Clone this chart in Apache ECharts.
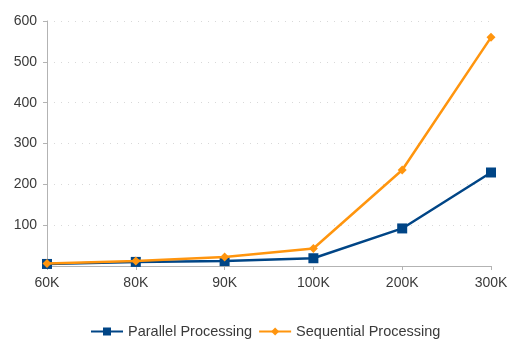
<!DOCTYPE html>
<html>
<head>
<meta charset="utf-8">
<script src="https://cdn.jsdelivr.net/npm/echarts@6/dist/echarts.min.js"></script>
<style>
  html, body { margin: 0; padding: 0; background: #fff; }
  #chart { width: 512px; height: 340px; }
</style>
</head>
<body>
<div id="chart"></div>
<script>
// Input sizes on the x axis
const categories = ['60K', '80K', '90K', '100K', '200K', '300K'];
// Processing times for each approach
const parallelValues = [5, 10, 12, 19, 92, 229];
const sequentialValues = [6, 12, 22, 43, 235, 560];
// Value axis ticks
const yTicks = [0, 100, 200, 300, 400, 500, 600];

const chart = echarts.init(document.getElementById('chart'));
const font = 'Liberation Sans, Arial, sans-serif';

chart.setOption({
  animation: false,
  grid: { left: 47, right: 21, top: 21, bottom: 74 },
  legend: {
    top: 319,
    left: 85,
    itemWidth: 32,
    itemHeight: 10,
    itemGap: 6,
    textStyle: { fontFamily: font, fontSize: 14.5, color: '#3a3a3a' },
    data: ['Parallel Processing', 'Sequential Processing']
  },
  xAxis: {
    type: 'category',
    data: categories,
    boundaryGap: false,
    axisLine: { lineStyle: { color: '#b3b3b3', width: 1 } },
    axisTick: { show: true, alignWithLabel: true, length: 4, lineStyle: { color: '#b3b3b3' } },
    axisLabel: { fontFamily: font, fontSize: 14, color: '#3a3a3a', margin: 10 },
    splitLine: { show: false }
  },
  yAxis: {
    type: 'value',
    min: yTicks[0],
    max: yTicks[yTicks.length - 1],
    interval: 100,
    axisLine: { show: true, lineStyle: { color: '#b3b3b3', width: 1 } },
    axisTick: { show: true, length: 4, lineStyle: { color: '#b3b3b3' } },
    axisLabel: {
      fontFamily: font, fontSize: 14, color: '#3a3a3a', margin: 10,
      formatter: v => (v === 0 ? '' : String(v))
    },
    splitLine: { show: true, lineStyle: { color: '#d9d9d9', type: [1, 6], width: 1 } }
  },
  series: [
    {
      name: 'Parallel Processing',
      type: 'line',
      data: parallelValues,
      symbol: 'rect',
      symbolSize: 10,
      itemStyle: { color: '#004586' },
      lineStyle: { color: '#004586', width: 2.5 },
      z: 2
    },
    {
      name: 'Sequential Processing',
      type: 'line',
      data: sequentialValues,
      symbol: 'diamond',
      symbolSize: 9,
      itemStyle: { color: '#ff950e' },
      lineStyle: { color: '#ff950e', width: 2.5 },
      z: 3
    }
  ]
});
</script>
</body>
</html>
